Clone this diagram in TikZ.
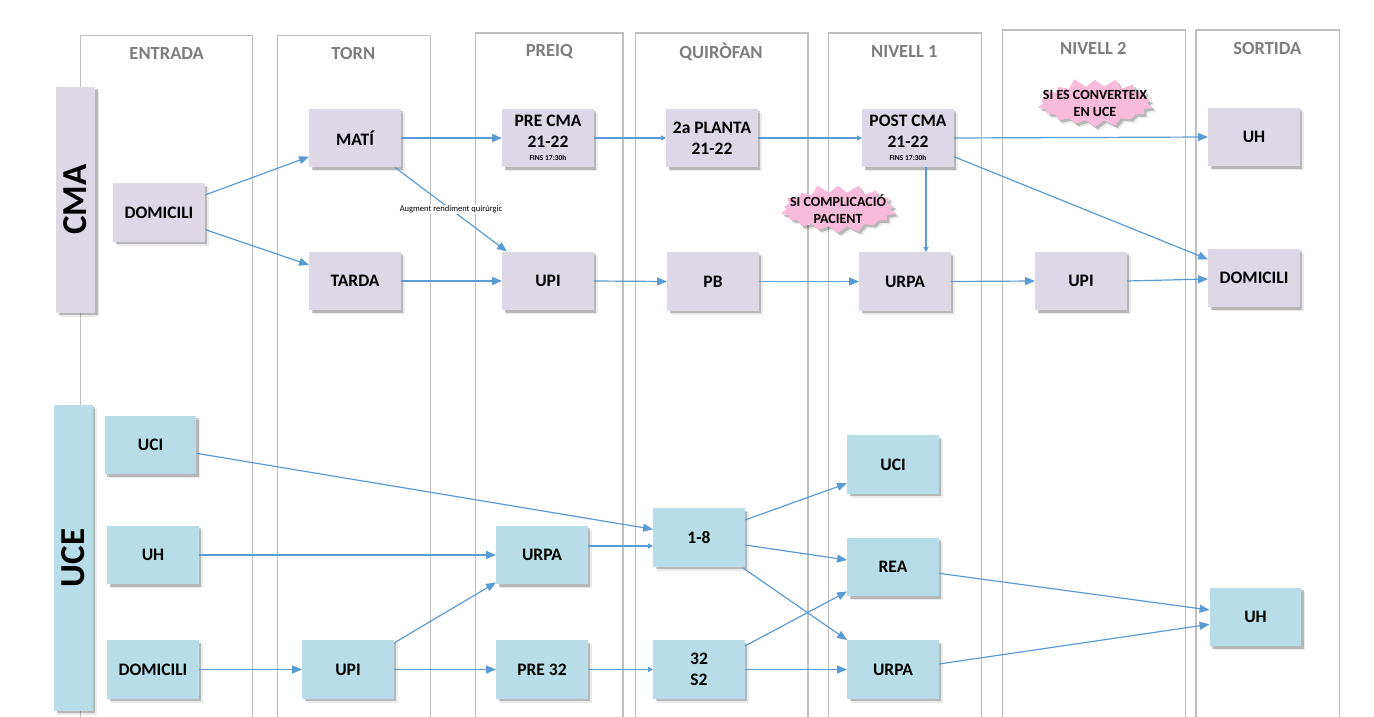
\documentclass[tikz,border=0pt]{standalone}
\usepackage{fontspec}
\setmainfont{Carlito}
\usetikzlibrary{arrows.meta,shapes.symbols,shadows,calc}
\definecolor{lav}{RGB}{221,215,230}
\definecolor{lblue}{RGB}{183,222,232}
\definecolor{pinkb}{RGB}{249,187,218}
\definecolor{arrowc}{RGB}{91,155,213}
\definecolor{lanec}{RGB}{191,191,191}
\definecolor{headc}{RGB}{125,125,125}
\begin{document}
\begin{tikzpicture}[x=1pt,y=-1pt,
  shad/.style={drop shadow={shadow xshift=4pt,shadow yshift=-4pt,fill=black,opacity=0.08},
               drop shadow={shadow xshift=2.5pt,shadow yshift=-2.5pt,fill=black,opacity=0.22}},
  box/.style={rectangle,minimum width=91.5pt,minimum height=58.5pt,inner sep=1pt,align=center,
    font=\fontsize{17.5}{21}\selectfont\bfseries,shad},
  cma/.style={box,fill=lav},
  uce/.style={box,fill=lblue},
  side/.style={rectangle,inner sep=0pt,shad},
  sidetext/.style={rotate=90,font=\fontsize{35}{38}\selectfont\bfseries},
  arr/.style={draw=arrowc,line width=1.2pt,-{Triangle[length=10pt,width=8pt]}},
  sarr/.style={draw=arrowc,line width=1.2pt,-{Triangle[length=5pt,width=5pt]}},
  lane/.style={draw=lanec,line width=1.2pt},
  head/.style={text=headc,font=\fontsize{18.5}{20}\selectfont\bfseries},
  burst/.style={starburst,fill=pinkb,draw=none,starburst points=18,starburst point height=9pt,
    random starburst=11,minimum width=122pt,minimum height=52pt,inner sep=0pt,shad},
  bursttext/.style={align=center,font=\fontsize{14}{17}\selectfont\bfseries},
  note/.style={fill=white,inner sep=1pt,font=\fontsize{8.5}{10}\selectfont}
]
\useasboundingbox (0,0) rectangle (1374,717);
% lanes
\draw[lane] (80.7,717) |- (252.7,35.7) -- (252.7,717);
\draw[lane] (277.3,717) |- (430.3,35.7) -- (430.3,717);
\draw[lane] (475.7,717) |- (623,33) -- (623,717);
\draw[lane] (635.7,717) |- (808,33) -- (808,717);
\draw[lane] (828.3,717) |- (981.3,33) -- (981.3,717);
\draw[lane] (1002.3,717) |- (1185.7,30) -- (1185.7,717);
\draw[lane] (1196,717) |- (1339.7,30) -- (1339.7,717);
% headers
\node[head] (hE) at (166.7,53.3) {ENTRADA};
\node[head] (hT) at (353.3,53.3) {TORN};
\node[head] (hP) at (549.3,51.7) {PREIQ};
\node[head] (hQ) at (721,51.7) {QUIRÒFAN};
\node[head] (hN1) at (904.3,51.7) {NIVELL 1};
\node[head] (hN2) at (1093.3,48.3) {NIVELL 2};
\node[head] (hS) at (1267.3,48.3) {SORTIDA};
% side bars
\node[side,fill=lav,minimum width=39pt,minimum height=226pt] (sCMA) at (75.5,199.7) {};
\node[sidetext] (tCMA) at (sCMA.center) {CMA};
\node[side,fill=lblue,minimum width=38.4pt,minimum height=305.7pt] (sUCE) at (73.5,557.8) {};
\node[sidetext] (tUCE) at (sUCE.center) {UCE};
% bursts
\node[burst] (b1) at (838,209.5) {};
\node[bursttext] (b1t) at (b1.center) {SI COMPLICACIÓ\\PACIENT};
\node[burst] (b2) at (1095,103.5) {};
\node[bursttext] (b2t) at (b2.center) {SI ES CONVERTEIX\\EN UCE};
% CMA boxes
\node[cma] (domC) at (159,212.5) {DOMICILI};
\node[cma] (mati) at (355,138) {MATÍ};
\node[cma] (tarda) at (355,281) {TARDA};
\node[cma] (precma) at (548,138) {PRE CMA\\21-22\\[-8pt]{\fontsize{7.5}{8}\selectfont FINS 17:30h}};
\node[cma] (planta) at (712,138) {2a PLANTA\\21-22};
\node[cma] (postcma) at (908,138) {POST CMA\\21-22\\[-8pt]{\fontsize{7.5}{8}\selectfont FINS 17:30h}};
\node[cma] (upiC) at (548,281) {UPI};
\node[cma] (pb) at (713,281.5) {PB};
\node[cma] (urpaC) at (905,281.5) {URPA};
\node[cma] (upiN2) at (1081,281) {UPI};
\node[cma] (uhS) at (1254,137) {UH};
\node[cma] (domS) at (1254,278) {DOMICILI};
% UCE boxes
\node[uce] (uciL) at (150.5,445) {UCI};
\node[uce] (uhL) at (153,555) {UH};
\node[uce] (domL) at (153,669.5) {DOMICILI};
\node[uce] (upiU) at (348,669.5) {UPI};
\node[uce] (urpaP) at (542,555) {URPA};
\node[uce] (pre32) at (542,669.5) {PRE 32};
\node[uce] (oneEight) at (699,537.5) {1-8};
\node[uce] (s32) at (699,669.5) {32\\S2};
\node[uce] (uciR) at (893,464.5) {UCI};
\node[uce] (rea) at (893,567) {REA};
\node[uce] (urpaR) at (893,669.5) {URPA};
\node[uce] (uhR) at (1255.5,617) {UH};
% CMA arrows
\draw[arr] ($(domC.east)+(0,-17.5)$) -- ($(mati.west)+(0,18.7)$);
\draw[arr] ($(domC.east)+(0,17)$) -- ($(tarda.west)+(0,-16)$);
\draw[arr] (mati.east) -- (precma.west);
\draw[arr] ($(mati.south)+(40,0)$) -- node[note] {Augment rendiment quirúrgic} ($(upiC.north)+(-41,0)$);
\draw[arr] (tarda.east) -- (upiC.west);
\draw[sarr] (precma.east) -- (planta.west);
\draw[sarr] (planta.east) -- (postcma.west);
\draw[arr] (postcma.east) -- (uhS.west);
\draw[arr] ($(postcma.east)+(0,18.7)$) -- ($(domS.west)+(0,-18.7)$);
\coordinate (pcS) at ($(postcma.south)+(18,0)$);
\draw[sarr] (pcS) -- (pcS |- urpaC.north);
\draw[arr] (upiC.east) -- (pb.west);
\draw[arr] (pb.east) -- (urpaC.west);
\draw[arr] (urpaC.east) -- (upiN2.west);
\draw[arr] (upiN2.east) -- ($(domS.west)+(0,1)$);
% UCE arrows
\draw[arr] ($(uciL.east)+(0,8.3)$) -- ($(oneEight.west)+(0,-8.2)$);
\draw[arr] (uhL.east) -- (urpaP.west);
\draw[arr] (domL.east) -- (upiU.west);
\draw[arr] ($(upiU.north east)+(0,3)$) -- ($(urpaP.south west)+(0,-2)$);
\draw[arr] (upiU.east) -- (pre32.west);
\draw[sarr] ($(urpaP.east)+(0,-9)$) -- ($(oneEight.west)+(0,8.5)$);
\draw[sarr] (pre32.east) -- (s32.west);
\draw[arr] ($(oneEight.east)+(0,-17.5)$) -- ($(uciR.west)+(0,18.8)$);
\draw[arr] ($(oneEight.east)+(0,7.5)$) -- ($(rea.west)+(0,-7)$);
\draw[arr] ($(oneEight.south east)+(-2,1)$) -- (urpaR.north west);
\draw[arr] ($(s32.east)+(0,-23.5)$) -- ($(rea.west)+(0,24.5)$);
\draw[arr] (s32.east) -- (urpaR.west);
\draw[arr] ($(rea.east)+(0,6.3)$) -- ($(uhR.west)+(0,-7)$);
\draw[arr] ($(urpaR.east)+(0,-5.5)$) -- ($(uhR.west)+(0,7.3)$);
\end{tikzpicture}
\end{document}
